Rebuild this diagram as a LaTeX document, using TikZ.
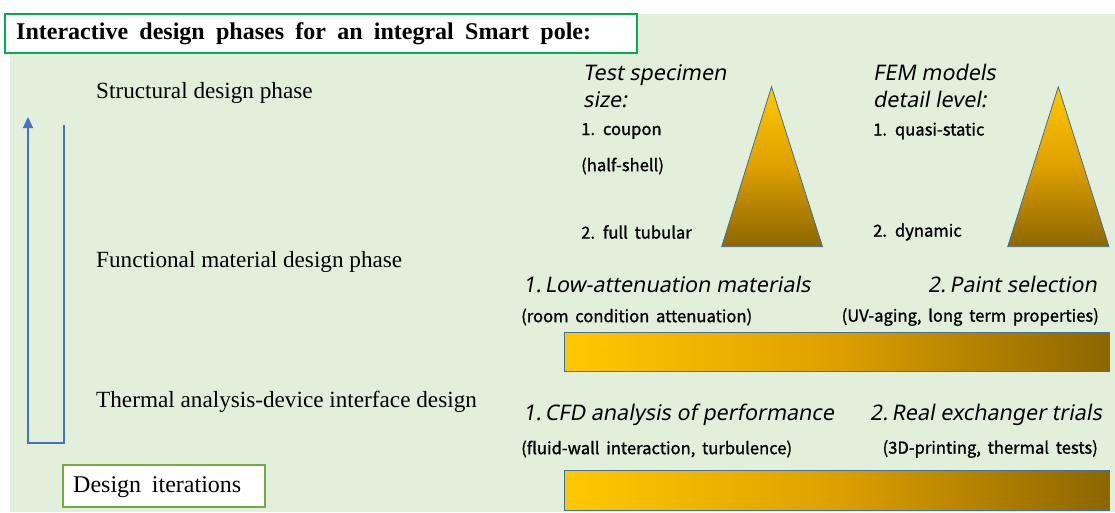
\documentclass[tikz,border=0pt]{standalone}
\usepackage{fontspec}
\setmainfont{Liberation Serif}
\newfontfamily\itfont{Noto Sans}[FakeSlant=0.18]
\newfontfamily\smfont{Noto Sans CJK KR}[FakeBold=1.2, WordSpace=1.8]
\usetikzlibrary{arrows.meta}
\definecolor{bgpanel}{RGB}{226,239,218}
\definecolor{titleline}{RGB}{0,176,80}
\definecolor{iterline}{RGB}{112,173,71}
\definecolor{loopblue}{RGB}{68,114,196}
\definecolor{goldlight}{RGB}{255,200,0}
\definecolor{goldmid}{RGB}{222,160,0}
\definecolor{golddark}{RGB}{140,102,0}
\definecolor{edgeblue}{RGB}{65,113,156}
\tikzset{
  phase/.style={anchor=west, inner sep=0pt, font=\fontsize{23.2}{26}\selectfont},
  heading/.style={anchor=west, inner sep=0pt, font=\itfont\fontsize{21.5}{24}\selectfont},
  detail/.style={anchor=west, inner sep=0pt, font=\smfont\fontsize{16.6}{19}\selectfont},
  edge/.style={draw=edgeblue, line width=0.8pt},
}
\begin{document}
\begin{tikzpicture}[x=1pt, y=-1pt]
\useasboundingbox (0,0) rectangle (1115,512);
% panel background
\fill[bgpanel] (10,14) rectangle (1115,512);

% title box
\node[draw=titleline, line width=2pt, fill=white, minimum width=632pt, minimum height=39pt,
      inner sep=0pt] (title) at (321,33.5) {};
\node[anchor=west, inner sep=0pt, font=\bfseries\fontsize{24}{26}\selectfont] (titletext)
      at (16,34) {\spaceskip=0.47em Interactive design phases for an integral Smart pole:};

% phase names
\node[phase] (struct) at (96,93) {Structural design phase};
\node[phase] (func) at (96,262) {Functional material design phase};
\node[phase] (therm) at (96,402) {Thermal analysis-device interface design};

% iteration loop
\coordinate (loopstart) at (64,125);
\coordinate (loopturn) at (28,443);
\coordinate (looptip) at (28,117);
\draw[loopblue, line width=1.4pt, -{Triangle[length=11pt, width=10pt]}]
  (loopstart) |- (loopturn) -- (looptip);

\node[draw=iterline, line width=1.5pt, fill=white, minimum width=202pt, minimum height=42pt,
      inner sep=0pt] (iter) at (164,486) {};
\node[phase, font=\fontsize{24}{26}\selectfont] (itertext) at (73,487) {\spaceskip=0.45em Design iterations};

% specimen size column
\node[heading, anchor=base west] (spec1) at (583,80) {Test specimen};
\node[heading, anchor=base west] (spec2) at (583,107) {size:};
\node[detail] (coupon) at (581,131) {1. coupon};
\node[detail] (halfshell) at (581,166) {(half-shell)};
\node[detail] (tubular) at (581,232) {2. full tubular};
\shade[top color=goldlight, bottom color=golddark, middle color=goldmid]
  (771.5,86.7) -- (822.5,246.7) -- (721.7,246.7) -- cycle;
\draw[edge] (771.5,86.7) -- (822.5,246.7) -- (721.7,246.7) -- cycle;

% FEM column
\node[heading, anchor=base west] (fem1) at (873,80) {FEM models};
\node[heading, anchor=base west] (fem2) at (873,107) {detail level:};
\node[detail] (quasi) at (873,131) {1. quasi-static};
\node[detail] (dynamic) at (873,232) {2. dynamic};
\shade[top color=goldlight, bottom color=golddark, middle color=goldmid]
  (1058.3,86.7) -- (1109,246.7) -- (1007.7,246.7) -- cycle;
\draw[edge] (1058.3,86.7) -- (1109,246.7) -- (1007.7,246.7) -- cycle;

% functional material row
\node[heading] (lowatt) at (523,284) {1.\,Low-attenuation materials};
\node[heading, anchor=east] (paint) at (1097,284) {2.\,Paint selection};
\node[detail] (roomcond) at (521,317) {(room condition attenuation)};
\node[detail, anchor=east] (uvaging) at (1099,317) {(UV-aging, long term properties)};
\shade[left color=goldlight, right color=golddark, middle color=goldmid]
  (564.3,332.3) rectangle (1109,371);
\draw[edge] (564.3,332.3) rectangle (1109,371);

% thermal row
\node[heading] (cfd) at (523,415) {1.\,CFD analysis of performance};
\node[heading, anchor=east] (realex) at (1102,415) {2.\,Real exchanger trials};
\node[detail] (fluidwall) at (521,449) {(fluid-wall interaction, turbulence)};
\node[detail, anchor=east] (printing) at (1098,449) {(3D-printing, thermal tests)};
\shade[left color=goldlight, right color=golddark, middle color=goldmid]
  (564.3,470) rectangle (1109,510);
\draw[edge] (564.3,470) rectangle (1109,510);
\end{tikzpicture}
\end{document}
